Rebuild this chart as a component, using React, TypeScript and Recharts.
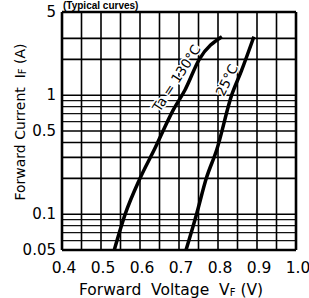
import React from 'react';
import { LineChart, Line, XAxis, YAxis, ReferenceLine, ReferenceDot } from 'recharts';

// forward voltage (V) / forward current (A)
const V_130 = [0.534, 0.562, 0.6, 0.638, 0.685, 0.715, 0.752, 0.81];
const I_130 = [0.05, 0.1, 0.2, 0.356, 0.75, 1.1, 2.0, 3.1];
const V_25 = [0.718, 0.745, 0.77, 0.797, 0.835, 0.86, 0.892];
const I_25 = [0.05, 0.1, 0.2, 0.35, 1.0, 1.6, 3.1];

const X_TICKS = [0.4, 0.5, 0.6, 0.7, 0.8, 0.9, 1.0];
const Y_TICKS = [0.05, 0.1, 0.5, 1, 5];
const X_GRID = [0.45, 0.5, 0.55, 0.6, 0.65, 0.7, 0.75, 0.8, 0.85, 0.9, 0.95];
const Y_GRID = [3, 2, 1, 0.5, 0.4, 0.3, 0.2, 0.1];
const Y_GRID_FINE = [0.9, 0.8, 0.7, 0.6, 0.09, 0.08, 0.07, 0.06];

const d130 = V_130.map((v, i) => ({ v, i: I_130[i] }));
const d25 = V_25.map((v, i) => ({ v, i: I_25[i] }));

const FONT = '"DejaVu Sans", sans-serif';

const XTick = ({ x, y, payload }: any) => (
  <text x={x + 2} y={y + 21} textAnchor="middle" fontFamily={FONT} fontSize={15.5} fill="#000">
    {payload.value.toFixed(1)}
  </text>
);

const YTick = ({ x, y, payload }: any) => (
  <text x={x - 4} y={y + 5} textAnchor="end" fontFamily={FONT} fontSize={15} fill="#000">
    {payload.value}
  </text>
);

const curveLabel = (txt: string, angle: number) => (p: any) => (
  <text
    transform={`translate(${p.cx},${p.cy}) rotate(${angle})`}
    textAnchor="middle"
    dominantBaseline="central"
    fontFamily={FONT}
    fontSize={13.5}
    fill="#000"
    stroke="#fff"
    strokeWidth={3}
    paintOrder="stroke"
  >
    {txt}
  </text>
);

export default function App() {
  return (
    <div style={{ position: 'absolute', left: 0, top: 0, width: 309, height: 298, background: '#fff' }}>
      <svg width={309} height={12} style={{ position: 'absolute', left: 0, top: 0 }}>
        <text x={63} y={9} fontFamily='"Liberation Sans", Arial, sans-serif' fontWeight="bold" fontSize={10}>
          (Typical curves)
        </text>
      </svg>
      <LineChart width={309} height={298} margin={{ top: 12, right: 13, left: 0, bottom: 0 }}>
        <XAxis
          dataKey="v"
          type="number"
          domain={[0.4, 1.0]}
          ticks={X_TICKS}
          height={48}
          axisLine={false}
          tickLine={false}
          tickSize={0}
          tick={<XTick />}
          label={{
            content: () => (
              <text x={171} y={295} textAnchor="middle" fontFamily={FONT} fontSize={15.5} fill="#000" style={{ whiteSpace: 'pre' }}>
                Forward  Voltage  V<tspan fontSize={10} dy={1}>F</tspan>
                <tspan dy={-1}> (V)</tspan>
              </text>
            ),
          }}
        />
        <YAxis
          dataKey="i"
          type="number"
          scale="log"
          domain={[0.05, 5]}
          ticks={Y_TICKS}
          width={62}
          axisLine={false}
          tickLine={false}
          tickSize={0}
          allowDataOverflow
          tick={<YTick />}
          label={{
            content: () => (
              <text transform="translate(25,122) rotate(-90)" textAnchor="middle" fontFamily={FONT} fontSize={14} fill="#000" style={{ whiteSpace: 'pre' }}>
                Forward Current  I<tspan fontSize={10} dy={1}>F</tspan>
                <tspan dy={-1}> (A)</tspan>
              </text>
            ),
          }}
        />
        {Y_GRID_FINE.map((y) => (
          <ReferenceLine key={`f${y}`} y={y} stroke="#111" strokeWidth={1.2} />
        ))}
        {Y_GRID.map((y) => (
          <ReferenceLine key={`h${y}`} y={y} stroke="#000" strokeWidth={1.6} />
        ))}
        {X_GRID.map((x) => (
          <ReferenceLine key={`v${x}`} x={x} stroke="#000" strokeWidth={1.6} />
        ))}
        <ReferenceLine x={0.4} stroke="#000" strokeWidth={2.6} />
        <ReferenceLine x={1.0} stroke="#000" strokeWidth={2.6} />
        <ReferenceLine y={0.05} stroke="#000" strokeWidth={2.6} />
        <ReferenceLine y={5} stroke="#000" strokeWidth={2.6} />
        <ReferenceDot x={0.693} y={1.39} r={0} shape={curveLabel('Ta = 130°C', -57)} />
        <ReferenceDot x={0.822} y={1.34} r={0} shape={curveLabel('25°C', -64)} />
        <Line data={d130} dataKey="i" type="monotone" stroke="#000" strokeWidth={3.5} dot={false} isAnimationActive={false} />
        <Line data={d25} dataKey="i" type="monotone" stroke="#000" strokeWidth={3.5} dot={false} isAnimationActive={false} />
      </LineChart>
    </div>
  );
}
